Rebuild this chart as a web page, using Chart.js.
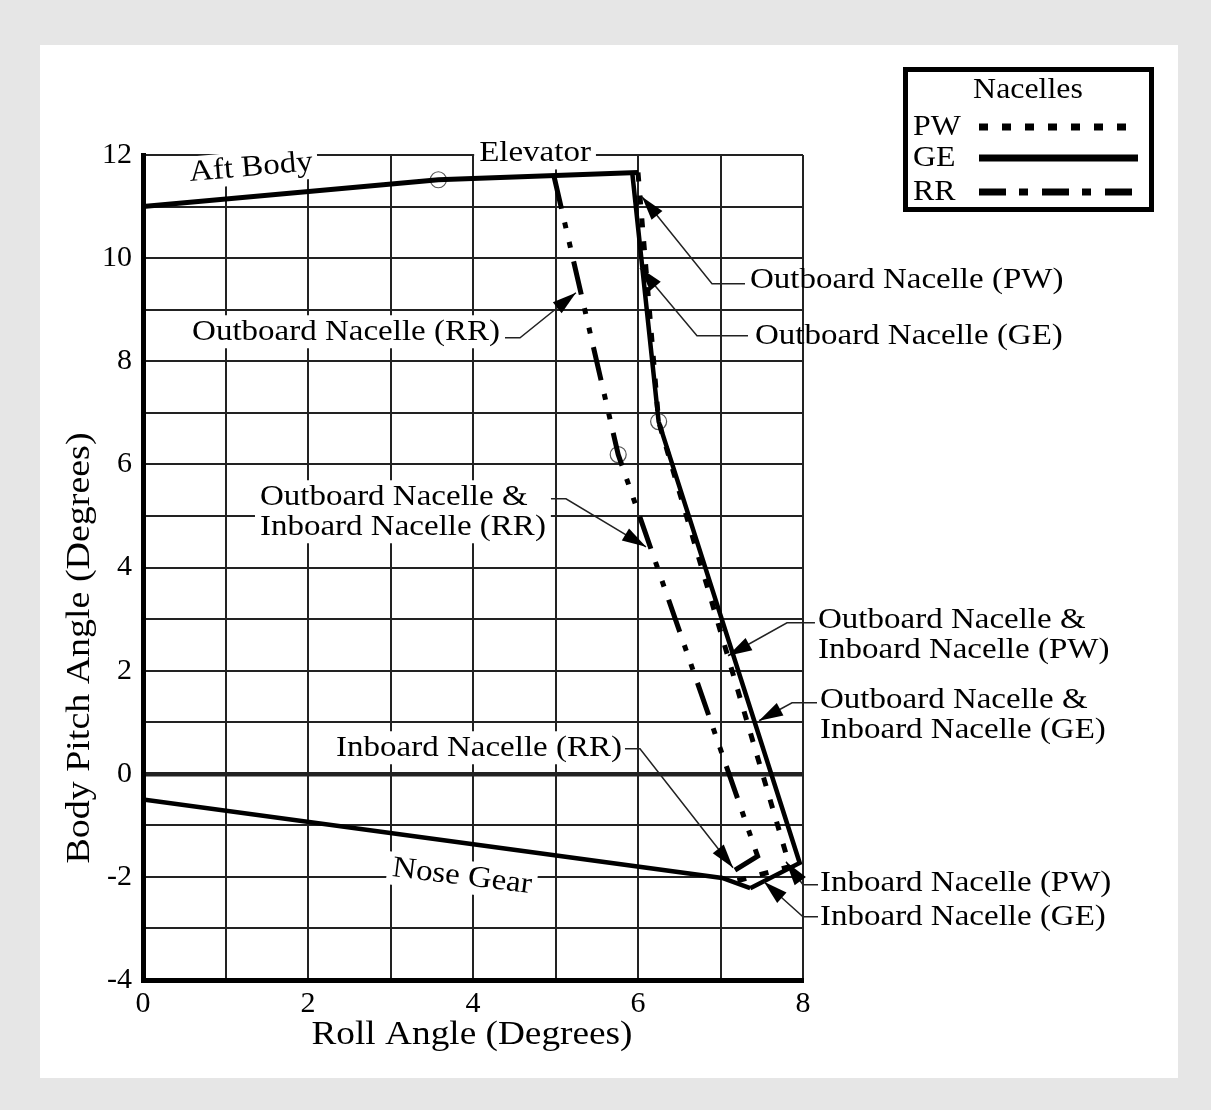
<!DOCTYPE html>
<html>
<head>
<meta charset="utf-8">
<script src="https://cdn.jsdelivr.net/npm/chart.js@4.4.1/dist/chart.umd.min.js"></script>
<style>
  html, body { margin: 0; padding: 0; background: #e6e6e6; }
  canvas { display: block; }
</style>
</head>
<body>
<canvas id="clearance" width="1211" height="1110"></canvas>
<script>
// DATA  (roll angle, body pitch angle in degrees)
const aftBodyRoll  = [0, 3.58, 6.0];
const aftBodyPitch = [11.0, 11.52, 11.66];

const noseGearRoll  = [0, 7.02, 7.36];
const noseGearPitch = [-0.5, -2.02, -2.22];

const geRoll  = [5.93, 6.25, 7.96, 7.36];
const gePitch = [11.66, 6.83, -1.73, -2.22];

const pwRoll  = [6.0, 6.25, 7.84, 7.15];
const pwPitch = [11.66, 6.83, -1.80, -2.10];

const rrRoll  = [4.98, 5.76, 7.45, 7.02];
const rrPitch = [11.60, 6.19, -1.60, -2.02];

const circleRoll  = [3.58, 5.76, 6.25];
const circlePitch = [11.52, 6.19, 6.83];

const xTicks = [0, 2, 4, 6, 8];
const yTicks = [-4, -2, 0, 2, 4, 6, 8, 10, 12];

// callouts: text anchor and leader path in chart units
const callouts = [
  {text: ['Outboard Nacelle (PW)'], at: [7.358, 9.581], align: 'left',
   path: [[7.297, 9.503], [6.897, 9.503], [6.048, 11.19]]},
  {text: ['Outboard Nacelle (GE)'], at: [7.418, 8.495], align: 'left',
   path: [[7.333, 8.495], [6.715, 8.495], [6.024, 9.813]]},
  {text: ['Outboard Nacelle (RR)'], at: [4.327, 8.572], align: 'right', bg: true,
   path: [[4.388, 8.456], [4.570, 8.456], [5.248, 9.329]]},
  {text: ['Outboard Nacelle &', 'Inboard Nacelle (RR)'], at: [1.418, 5.372], align: 'left', bg: true,
   path: [[4.945, 5.333], [5.127, 5.333], [6.097, 4.402]]},
  {text: ['Outboard Nacelle &', 'Inboard Nacelle (PW)'], at: [8.182, 2.987], align: 'left',
   path: [[8.145, 2.928], [7.806, 2.928], [7.091, 2.289]]},
  {text: ['Outboard Nacelle &', 'Inboard Nacelle (GE)'], at: [8.206, 1.435], align: 'left',
   path: [[8.170, 1.377], [7.867, 1.377], [7.467, 1.028]]},
  {text: ['Inboard Nacelle (RR)'], at: [5.806, 0.504], align: 'right', bg: true,
   path: [[5.842, 0.485], [6.024, 0.485], [7.152, -1.823]]},
  {text: ['Inboard Nacelle (PW)'], at: [8.206, -2.114], align: 'left',
   path: [[8.182, -2.153], [8.0, -2.153], [7.794, -1.707]]},
  {text: ['Inboard Nacelle (GE)'], at: [8.206, -2.773], align: 'left',
   path: [[8.182, -2.773], [8.0, -2.773], [7.527, -2.095]]}
];

const zoneLabels = [
  {text: 'Aft Body', at: [1.309, 11.753], rot: -5},
  {text: 'Elevator', at: [4.752, 12.04], rot: 0},
  {text: 'Nose Gear', at: [3.867, -1.998], rot: 7}
];

const SERIF = '"Liberation Serif", "Times New Roman", serif';
const STRETCH = 1.1;

function pts(xs, ys) {
  return xs.map((x, i) => ({x: x, y: ys[i]}));
}

const PW_DASH = [9, 14];
const RR_DASH = [34, 14, 6, 14, 6, 14];

function lineSet(label, xs, ys, width, dash) {
  return {
    label: label,
    data: pts(xs, ys),
    showLine: true,
    borderColor: '#000',
    borderWidth: width,
    borderDash: dash || [],
    pointRadius: 0,
    fill: false,
    tension: 0
  };
}

function sText(ctx, str, x, y, size, align, stretch, rot) {
  ctx.save();
  ctx.font = size + 'px ' + SERIF;
  ctx.translate(x, y);
  if (rot) ctx.rotate(rot);
  ctx.scale(stretch, 1);
  ctx.textAlign = align;
  ctx.textBaseline = 'middle';
  ctx.fillText(str, 0, 0);
  ctx.restore();
}

function textBox(ctx, str, x, y, size, align, stretch, rot) {
  ctx.save();
  ctx.font = size + 'px ' + SERIF;
  const w = ctx.measureText(str).width * stretch;
  ctx.translate(x, y);
  if (rot) ctx.rotate(rot);
  let left = align === 'left' ? 0 : align === 'right' ? -w : -w / 2;
  ctx.fillStyle = '#fff';
  ctx.fillRect(left - 5, -size * 0.55, w + 10, size * 1.1);
  ctx.restore();
}

function arrowHead(ctx, from, to) {
  const a = Math.atan2(to.y - from.y, to.x - from.x);
  const L = 24, W = 7;
  ctx.beginPath();
  ctx.moveTo(to.x, to.y);
  ctx.lineTo(to.x - L * Math.cos(a) + W * Math.sin(a), to.y - L * Math.sin(a) - W * Math.cos(a));
  ctx.lineTo(to.x - L * Math.cos(a) - W * Math.sin(a), to.y - L * Math.sin(a) + W * Math.cos(a));
  ctx.closePath();
  ctx.fill();
}

const decor = {
  id: 'decor',
  beforeDraw(chart) {
    const c = chart.ctx;
    c.save();
    c.fillStyle = '#e6e6e6';
    c.fillRect(0, 0, chart.width, chart.height);
    c.fillStyle = '#fff';
    c.fillRect(40, 45, 1138, 1033);
    c.restore();
  },
  beforeDatasetsDraw(chart) {
    const c = chart.ctx, sx = chart.scales.x, sy = chart.scales.y;
    c.save();
    c.fillStyle = '#000';
    zoneLabels.forEach(l => {
      const px = sx.getPixelForValue(l.at[0]), py = sy.getPixelForValue(l.at[1]);
      const r = l.rot * Math.PI / 180;
      textBox(c, l.text, px, py, 30, 'center', STRETCH, r);
      c.fillStyle = '#000';
      sText(c, l.text, px, py, 30, 'center', STRETCH, r);
    });
    callouts.forEach(n => {
      const px = sx.getPixelForValue(n.at[0]);
      n.text.forEach((t, i) => {
        const py = sy.getPixelForValue(n.at[1]) + i * 30;
        if (n.bg) textBox(c, t, px, py, 30, n.align, STRETCH, 0);
        c.fillStyle = '#000';
        sText(c, t, px, py, 30, n.align, STRETCH, 0);
      });
    });
    c.restore();
  },
  afterDatasetsDraw(chart) {
    const c = chart.ctx, sx = chart.scales.x, sy = chart.scales.y;
    c.save();
    c.strokeStyle = '#222';
    c.fillStyle = '#000';
    c.lineWidth = 1.5;
    callouts.forEach(n => {
      const p = n.path.map(q => ({x: sx.getPixelForValue(q[0]), y: sy.getPixelForValue(q[1])}));
      c.beginPath();
      c.moveTo(p[0].x, p[0].y);
      for (let i = 1; i < p.length; i++) c.lineTo(p[i].x, p[i].y);
      c.stroke();
      arrowHead(c, p[p.length - 2], p[p.length - 1]);
    });

    // axis titles
    const area = chart.chartArea;
    c.fillStyle = '#000';
    sText(c, 'Roll Angle (Degrees)', (area.left + area.right) / 2 - 1, 1035, 33, 'center', 1.13, 0);
    sText(c, 'Body Pitch Angle (Degrees)', 80, 648, 33, 'center', 1.15, -Math.PI / 2);

    // legend box
    c.lineWidth = 5;
    c.strokeStyle = '#000';
    c.strokeRect(905.5, 69.5, 246, 140);
    sText(c, 'Nacelles', 1028, 90, 29, 'center', STRETCH, 0);
    const rows = [['PW', PW_DASH, 127], ['GE', [], 158], ['RR', [27, 13, 9, 14], 192]];
    rows.forEach(r => {
      sText(c, r[0], 913, r[2], 29, 'left', STRETCH, 0);
      c.save();
      c.lineWidth = 7;
      c.setLineDash(r[1]);
      c.beginPath();
      c.moveTo(979, r[2]);
      c.lineTo(1138, r[2]);
      c.stroke();
      c.restore();
    });
    c.restore();
  }
};

const ctx = document.getElementById('clearance');

const tickFont = {family: SERIF, size: 30};

const myChart = new Chart(ctx, {
  type: 'scatter',
  data: {
    datasets: [
      lineSet('Aft Body / Elevator', aftBodyRoll, aftBodyPitch, 5),
      lineSet('GE', geRoll, gePitch, 4.5),
      lineSet('Nose Gear', noseGearRoll, noseGearPitch, 4.5),
      lineSet('PW', pwRoll, pwPitch, 5, PW_DASH),
      lineSet('RR', rrRoll, rrPitch, 5, RR_DASH),
      {
        label: 'markers',
        data: pts(circleRoll, circlePitch),
        showLine: false,
        pointRadius: 8,
        pointBorderWidth: 1.2,
        borderColor: '#555',
        backgroundColor: 'rgba(0,0,0,0)'
      }
    ]
  },
  options: {
    responsive: false,
    animation: false,
    events: [],
    layout: {padding: {left: 0, top: 155, right: 408, bottom: 0}},
    plugins: {
      legend: {display: false},
      tooltip: {enabled: false}
    },
    scales: {
      x: {
        type: 'linear',
        min: 0, max: 8,
        afterFit: function (scale) { scale.height = 130; },
        ticks: {
          stepSize: 1,
          autoSkip: false,
          maxRotation: 0,
          padding: 6,
          color: '#000',
          font: tickFont,
          callback: v => xTicks.includes(v) ? String(v) : ''
        },
        grid: {color: '#222', lineWidth: 2, drawTicks: false},
        border: {color: '#000', width: 5}
      },
      y: {
        type: 'linear',
        min: -4, max: 12,
        afterFit: function (scale) { scale.width = 143; },
        ticks: {
          stepSize: 1,
          autoSkip: false,
          padding: 11,
          color: '#000',
          font: tickFont,
          callback: v => yTicks.includes(v) ? String(v) : ''
        },
        grid: {
          color: '#222',
          lineWidth: c => (c.tick && c.tick.value === 0) ? 4.5 : 2,
          drawTicks: false
        },
        border: {color: '#000', width: 5}
      }
    }
  },
  plugins: [decor]
});
</script>
</body>
</html>
